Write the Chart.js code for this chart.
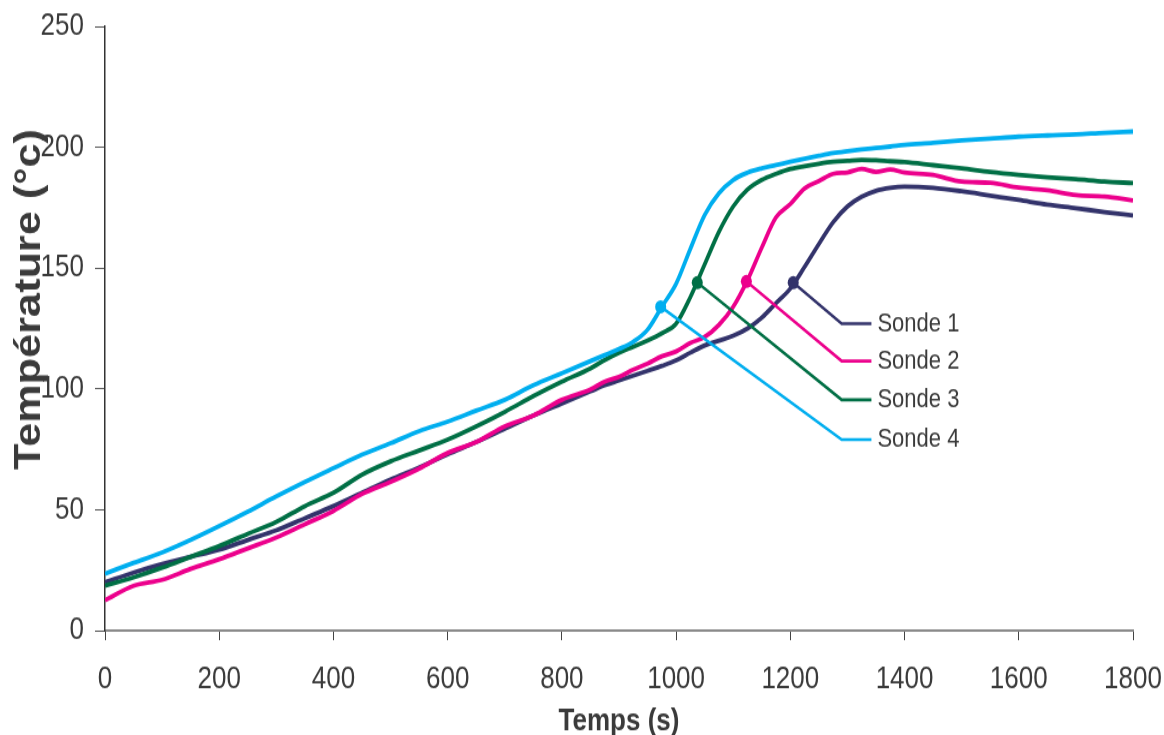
<!DOCTYPE html>
<html>
<head>
<meta charset="utf-8">
<script src="https://cdn.jsdelivr.net/npm/chart.js@4/dist/chart.umd.min.js"></script>
<style>
  html { margin: 0; padding: 0; background: #fff; overflow: hidden; }
  body { margin: 0; padding: 0; background: #fff; height: 735px; }
  /* the original figure is stretched vertically, so the whole canvas is too */
  #wrap { width: 1164px; height: 612px; transform: scaleY(1.201); transform-origin: 0 0; }
  #chart { display: block; }
</style>
</head>
<body>
<div id="wrap"><canvas id="chart" width="1164" height="612"></canvas></div>
<script>
// ===== Data =====

const times = [0, 50, 100, 150, 200, 250, 300, 350, 400, 450, 500, 550, 600, 650, 700, 750, 800, 850,
  875, 900, 925, 950, 975, 1000, 1025, 1050, 1075, 1100, 1125, 1150, 1175, 1200, 1225, 1250, 1275, 1300, 1325, 1350, 1375, 1400,
  1450, 1500, 1550, 1600, 1650, 1700, 1750, 1800];

const sonde1 = [20, 24, 27.5, 30.5, 33.5, 37.5, 41.5, 46.5, 51.5, 57, 62.5, 67.5, 73, 78, 83.5, 89, 94, 99,
  101.5, 103.5, 105.5, 107.5, 109.5, 111.8, 115, 118, 120, 122, 125, 129.5, 135.5, 141.5, 150.5, 160, 169, 175.5, 179.5, 182, 183.2, 183.7,
  183.2, 181.8, 180, 178.2, 176.3, 174.8, 173.2, 171.8];

const sonde2 = [12.5, 18.5, 21, 25.5, 29.5, 34, 38.5, 44, 49.5, 56.5, 61.5, 67, 73.5, 78, 84.5, 89, 95.5, 99.8,
  103, 105, 108, 110.5, 113.5, 115.5, 119, 121.5, 126.5, 134, 145, 158.5, 171, 176.5, 183, 186, 189, 189.6, 191, 189.8, 190.8, 189.5,
  188.5, 185.8, 185.3, 183.3, 182.2, 180.2, 179.6, 178];

const sonde3 = [18.5, 22, 26, 30.5, 35, 40, 45, 51.5, 57, 64.5, 70, 74.5, 79, 84.5, 90.5, 97, 103, 108.5,
  112, 115, 117.5, 120, 123, 127, 138, 151.5, 165, 175.5, 182.5, 186.5, 189, 191, 192.2, 193.2, 194, 194.4, 194.8, 194.6, 194.2, 193.9,
  192.6, 191.3, 189.8, 188.6, 187.6, 186.8, 185.8, 185.2];

const sonde4 = [23.5, 28, 32.3, 37.5, 43.2, 49.2, 55.5, 61.5, 67.2, 72.8, 77.5, 82.5, 86.5, 91, 95.5, 101.5, 106.5, 111.5,
  114, 116.5, 119.5, 124.5, 134, 143.5, 158, 172, 181, 186.5, 189.5, 191.3, 192.6, 194, 195.3, 196.5, 197.6, 198.4, 199.1, 199.7, 200.3, 201,
  201.8, 202.8, 203.6, 204.4, 204.9, 205.3, 206, 206.5];

const probeNames = ['Sonde 1', 'Sonde 2', 'Sonde 3', 'Sonde 4'];
const probeColors = ['#33336b', '#ec008c', '#006f45', '#00aeef'];

// label leader lines: marked point on each curve -> elbow -> label
const markerTimes = [1205, 1123, 1037, 973];
const markerTemps = [144, 144.5, 144, 134];
const elbowTime = 1290;
const labelEndTime = 1342;
const elbowTemps = [127, 111.5, 95.5, 79];

const xTicks = [0, 200, 400, 600, 800, 1000, 1200, 1400, 1600, 1800];
const yTicks = [0, 50, 100, 150, 200, 250];
const yTitle = 'Température (°c)';
const xTitle = 'Temps (s)';

// ===== Datasets =====

const series = [sonde1, sonde2, sonde3, sonde4];

const leaderSets = probeNames.map((name, i) => ({
  label: name + ' leader',
  data: [
    { x: markerTimes[i], y: markerTemps[i] },
    { x: elbowTime, y: elbowTemps[i] },
    { x: labelEndTime, y: elbowTemps[i] }
  ],
  borderColor: probeColors[i],
  backgroundColor: probeColors[i],
  borderWidth: 2.6,
  pointRadius: [5.5, 0, 0],
  pointBorderWidth: 0,
  tension: 0
}));

const drawOrder = [1, 3, 2, 0]; // pink on top of navy
const curveSets = drawOrder.map(i => ({
  label: probeNames[i],
  data: times.map((t, j) => ({ x: t, y: series[i][j] })),
  borderColor: probeColors[i],
  borderWidth: 3.8,
  pointRadius: 0,
  cubicInterpolationMode: 'monotone'
}));

// ===== Plugin for the probe labels and the y title =====

const FONT = '"Liberation Sans", Arial, sans-serif';

const probeLabels = {
  id: 'probeLabels',
  afterDatasetsDraw(chart) {
    const { ctx, scales: { x, y } } = chart;
    ctx.save();
    ctx.font = '22px ' + FONT;
    ctx.fillStyle = '#3a3a3a';
    ctx.textBaseline = 'middle';
    ctx.textAlign = 'left';
    probeNames.forEach((name, i) => {
      ctx.fillText(name, x.getPixelForValue(labelEndTime) + 6, y.getPixelForValue(elbowTemps[i]));
    });
    // y axis title, sits a bit above the middle of the axis in the original
    ctx.translate(30, y.getPixelForValue(137));
    ctx.rotate(-Math.PI / 2);
    ctx.font = 'bold 36px ' + FONT;
    ctx.textAlign = 'center';
    ctx.fillText(yTitle, 0, 0);
    ctx.restore();
  }
};

// ===== Chart =====

const tickFont = { family: FONT, size: 26 };

new Chart(document.getElementById('chart'), {
  type: 'line',
  data: { datasets: [...leaderSets, ...curveSets] },
  options: {
    responsive: false,
    animation: false,
    devicePixelRatio: 1,
    layout: { padding: { top: 22, right: 31, left: 0, bottom: 0 } },
    plugins: {
      legend: { display: false },
      tooltip: { enabled: false }
    },
    scales: {
      x: {
        type: 'linear',
        min: 0,
        max: 1800,
        afterBuildTicks: s => { s.ticks = xTicks.map(v => ({ value: v })); },
        afterFit: s => { s.height = 87; s.paddingLeft = 0; s.paddingRight = 0; },
        border: { color: '#8a8a8a', width: 2 },
        grid: { drawOnChartArea: false, tickLength: 8, color: '#444', tickWidth: 1 },
        ticks: { font: tickFont, color: '#3a3a3a', padding: 17, maxRotation: 0, callback: v => String(v) },
        title: {
          display: true,
          text: xTitle,
          color: '#3a3a3a',
          font: { family: FONT, size: 26, weight: 'bold', lineHeight: 1 },
          padding: { top: 0, bottom: -2 }
        }
      },
      y: {
        min: 0,
        max: 250,
        afterBuildTicks: s => { s.ticks = yTicks.map(v => ({ value: v })); },
        afterFit: s => { s.width = 105; s.paddingTop = 0; s.paddingBottom = 0; },
        border: { color: '#333', width: 1.5 },
        grid: { drawOnChartArea: false, tickLength: 10, color: '#555', tickWidth: 1 },
        ticks: { font: tickFont, color: '#3a3a3a', padding: 11, callback: v => String(v) }
      }
    }
  },
  plugins: [probeLabels]
});
</script>
</body>
</html>
